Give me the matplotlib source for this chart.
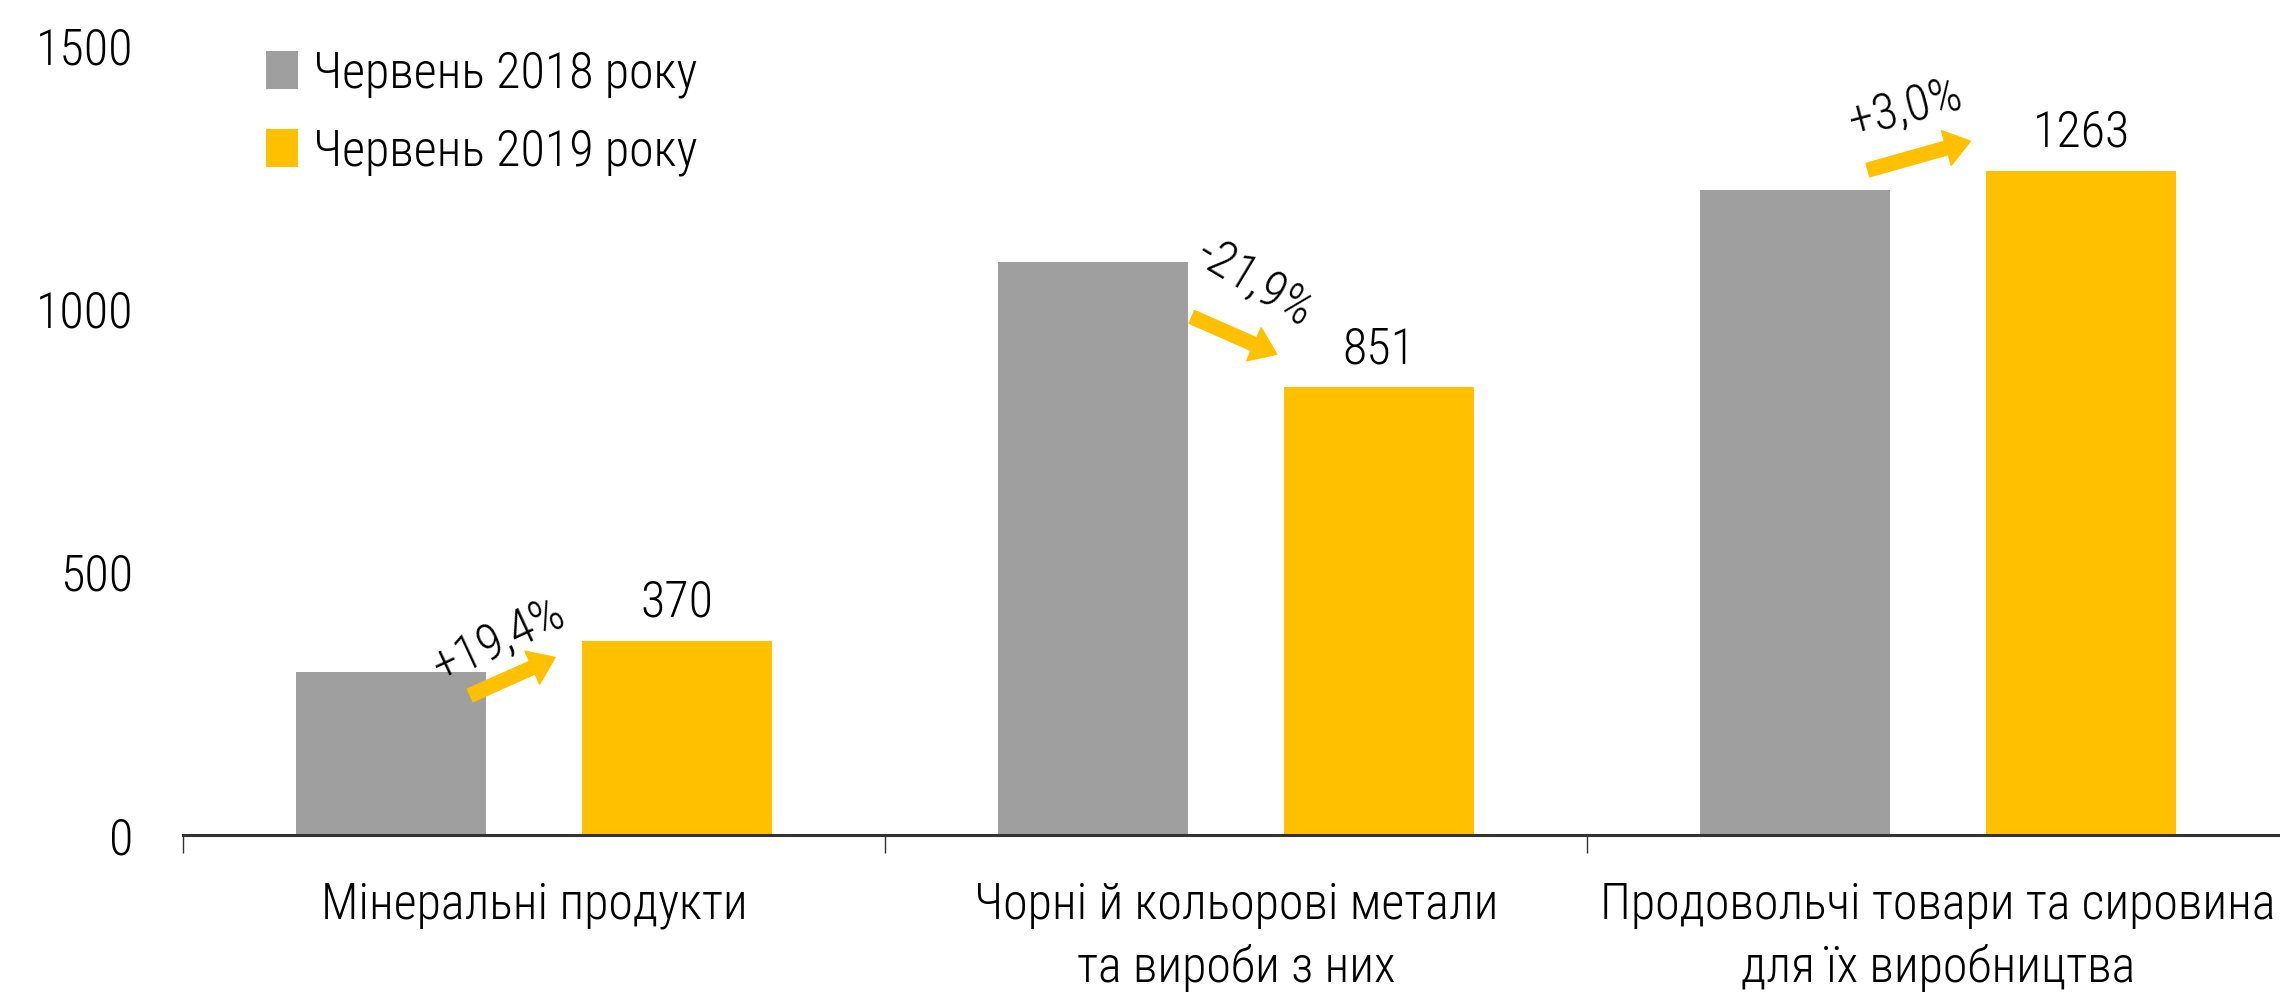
import numpy as np
import matplotlib.pyplot as plt
from matplotlib.ticker import FixedLocator

plt.rcParams['font.family'] = ['Roboto Condensed', 'DejaVu Sans']
plt.rcParams['font.weight'] = 'light'

categories = ['Мінеральні продукти', 'Чорні й кольорові метали\nта вироби з них',
              'Продовольчі товари та сировина\nдля їх виробництва']
june_2018 = [310, 1090, 1226]
june_2019 = [370, 851, 1263]
changes = ['+19,4%', '-21,9%', '+3,0%']
series_names = ['Червень 2018 року', 'Червень 2019 року']

gray = '#A09FA0'
yellow = '#FFC000'
fs = 36

fig = plt.figure(figsize=(22.8, 9.98), dpi=100)
ax = fig.add_axes([0.0803, 0.163, 0.9197, 0.791])

x = np.arange(len(categories))
w = 0.271
off = 0.204
ax.bar(x - off, june_2018, w, color=gray, label=series_names[0])
ax.bar(x + off, june_2019, w, color=yellow, label=series_names[1])

for xi, v in zip(x, june_2019):
    ax.annotate(str(v), (xi + off, v), xytext=(0, 10), textcoords='offset points',
                ha='center', va='bottom', fontsize=fs)

# arrows between bars: (start dx, start y, end dx, end y, text dx, text y, angle)
arrows = [(-0.091, 266, 0.030, 338, -0.05, 371, 25),
          (-0.063, 985, 0.058, 914, 0.026, 1051, -31),
          (-0.100, 1264, 0.046, 1319, -0.047, 1380, 15)]
for xi, (sx, sy, ex, ey, tx, ty, ang), lab in zip(x, arrows, changes):
    ax.annotate('', xy=(xi + ex, ey), xytext=(xi + sx, sy),
                arrowprops=dict(color=yellow, width=10, headwidth=26, headlength=18, shrink=0))
    ax.text(xi + tx, ty, lab, rotation=ang, ha='center', va='center', fontsize=fs,
            rotation_mode='anchor')

ax.set_xlim(-0.5, 2.487)
ax.set_ylim(0, 1500)
ax.set_yticks([0, 500, 1000, 1500])
ax.tick_params(axis='y', length=0, labelsize=fs, pad=36)
ax.set_xticks(x)
ax.set_xticklabels(categories, fontsize=fs, linespacing=1.4)
ax.tick_params(axis='x', which='major', length=0, pad=33)
ax.xaxis.set_minor_locator(FixedLocator([-0.5, 0.5, 1.5, 2.5]))
ax.tick_params(axis='x', which='minor', length=13, width=1, color='#333333', direction='out')

for s in ['left', 'right', 'top']:
    ax.spines[s].set_visible(False)
ax.spines['bottom'].set_linewidth(2.2)
ax.spines['bottom'].set_color('#333333')

ax.legend(loc='upper left', bbox_to_anchor=(0.018, 1.052), frameon=False, fontsize=fs,
          handlelength=0.64, handleheight=0.78, handletextpad=0.3, labelspacing=0.6)

fig.savefig('out.png', dpi=100)
